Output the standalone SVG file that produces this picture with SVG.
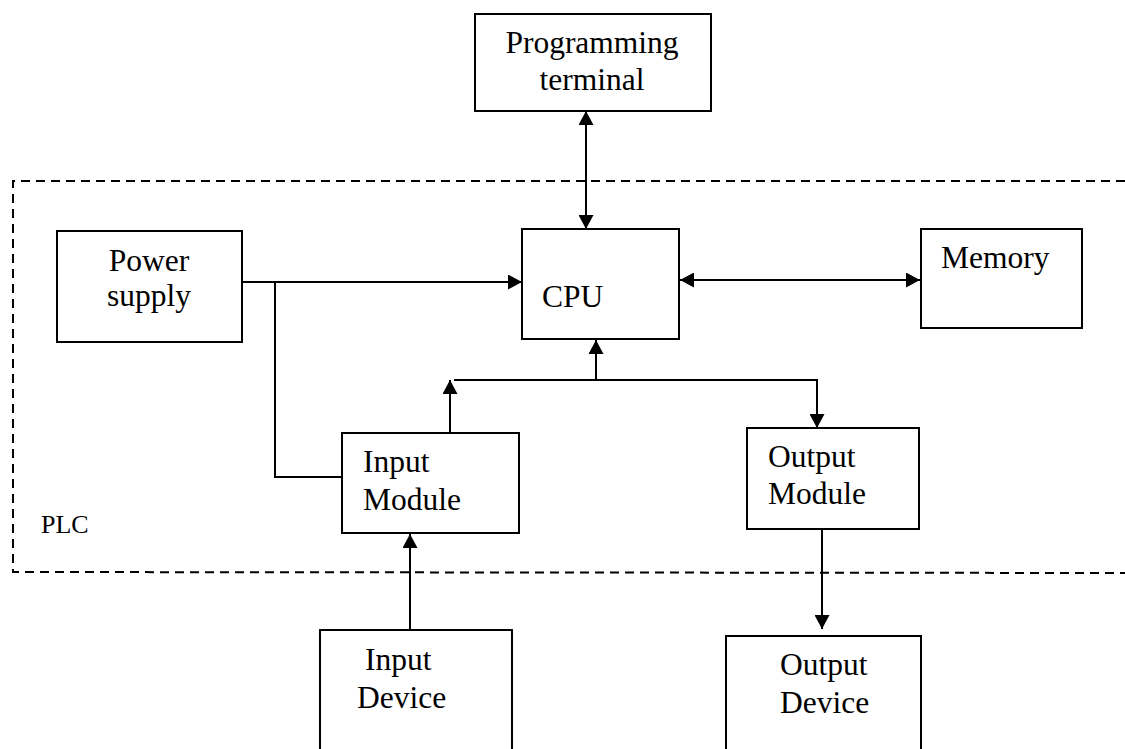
<svg xmlns="http://www.w3.org/2000/svg" width="1125" height="749" viewBox="0 0 1125 749">
  <style>
    .box { fill: #ffffff; stroke: #000000; stroke-width: 2; }
    .lbl { font-family: "Liberation Serif", "Times New Roman", serif; font-size: 31.5px; fill: #000000; }
    .small { font-family: "Liberation Serif", "Times New Roman", serif; font-size: 26px; fill: #000000; }
    .wire { fill: none; stroke: #000000; stroke-width: 2; }
    .dash { fill: none; stroke: #000000; stroke-width: 2; stroke-dasharray: 9 6; }
  </style>
  <defs>
    <marker id="arr" viewBox="0 0 14 15" refX="14" refY="7.5" markerWidth="14" markerHeight="15" markerUnits="userSpaceOnUse" orient="auto-start-reverse">
      <path d="M0,0 L14,7.5 L0,15 Z" fill="#000000"/>
    </marker>
  </defs>
  <rect width="1125" height="749" fill="#ffffff"/>

  <g id="plc-boundary">
    <path class="dash" d="M1125,181 L13,181 L13,572 L1125,573"/>
    <text class="small" x="41" y="533">PLC</text>
  </g>

  <g id="connectors">
    <line class="wire" x1="586" y1="111" x2="586" y2="229" marker-start="url(#arr)" marker-end="url(#arr)"/>
    <line class="wire" x1="680" y1="280" x2="920" y2="280" marker-start="url(#arr)" marker-end="url(#arr)"/>
    <line class="wire" x1="242" y1="282" x2="522" y2="282" marker-end="url(#arr)"/>
    <polyline class="wire" points="275,282 275,477 342,477"/>
    <line class="wire" x1="450" y1="433" x2="450" y2="380" marker-end="url(#arr)"/>
    <polyline class="wire" points="454,380 817,380 817,428" marker-end="url(#arr)"/>
    <line class="wire" x1="596" y1="380" x2="596" y2="340" marker-end="url(#arr)"/>
    <line class="wire" x1="410" y1="630" x2="410" y2="534" marker-end="url(#arr)"/>
    <line class="wire" x1="822" y1="529" x2="822" y2="629" marker-end="url(#arr)"/>
  </g>

  <g id="programming-terminal">
    <rect class="box" x="475" y="14" width="236" height="97"/>
    <text class="lbl" x="592" y="53" text-anchor="middle">Programming</text>
    <text class="lbl" x="592" y="90" text-anchor="middle">terminal</text>
  </g>

  <g id="power-supply">
    <rect class="box" x="57" y="231" width="185" height="111"/>
    <text class="lbl" x="149" y="271" text-anchor="middle">Power</text>
    <text class="lbl" x="149" y="306" text-anchor="middle">supply</text>
  </g>

  <g id="cpu">
    <rect class="box" x="522" y="229" width="157" height="110"/>
    <text class="lbl" x="542" y="307">CPU</text>
  </g>

  <g id="memory">
    <rect class="box" x="921" y="229" width="161" height="99"/>
    <text class="lbl" x="941" y="268">Memory</text>
  </g>

  <g id="input-module">
    <rect class="box" x="342" y="433" width="177" height="100"/>
    <text class="lbl" x="363" y="472">Input</text>
    <text class="lbl" x="363" y="510">Module</text>
  </g>

  <g id="output-module">
    <rect class="box" x="747" y="428" width="172" height="101"/>
    <text class="lbl" x="768" y="467">Output</text>
    <text class="lbl" x="768" y="504">Module</text>
  </g>

  <g id="input-device">
    <path class="box" d="M320,760 L320,630 L512,630 L512,760"/>
    <text class="lbl" x="365" y="670">Input</text>
    <text class="lbl" x="357" y="708">Device</text>
  </g>

  <g id="output-device">
    <path class="box" d="M726,760 L726,636 L921,636 L921,760"/>
    <text class="lbl" x="780" y="675">Output</text>
    <text class="lbl" x="780" y="713">Device</text>
  </g>
</svg>
